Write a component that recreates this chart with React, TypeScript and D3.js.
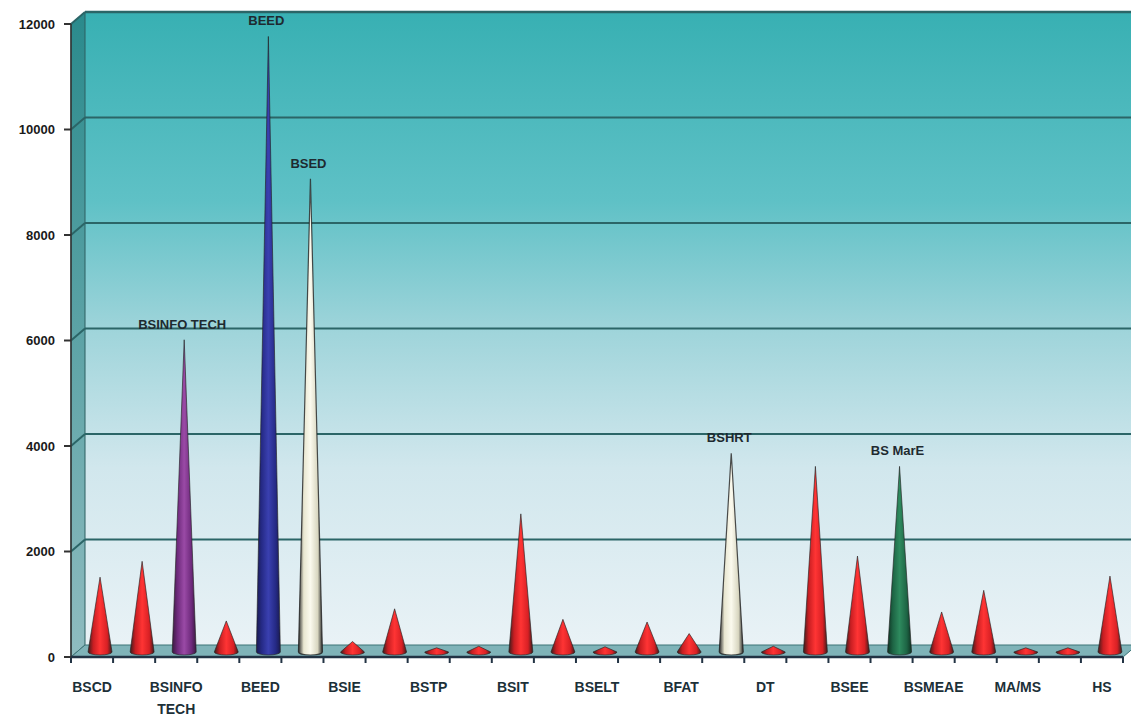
import React from 'react';
import * as d3 from 'd3';

// 25 categories, only every other one is labelled on the axis
const tickLabels = ['BSCD', 'BSINFO\nTECH', 'BEED', 'BSIE', 'BSTP', 'BSIT', 'BSELT', 'BFAT', 'DT', 'BSEE', 'BSMEAE', 'MA/MS', 'HS'];
const values = [1400, 1700, 5900, 570, 11650, 8950, 180, 800, 60, 90, 2600, 600, 80, 550, 330, 3750, 90, 3500, 1800, 3500, 740, 1150, 60, 60, 1420];
const peakLabels = [
  { index: 2, text: 'BSINFO TECH' },
  { index: 4, text: 'BEED' },
  { index: 5, text: 'BSED' },
  { index: 15, text: 'BSHRT' },
  { index: 19, text: 'BS MarE' },
];
const yTicks = [0, 2000, 4000, 6000, 8000, 10000, 12000];

const W = 1131;
const H = 721;
const DX = 14; // depth offset of the back wall
const DY = -12;

const coneStyle: Record<number, string> = { 2: 'purple', 4: 'blue', 5: 'cream', 15: 'cream', 19: 'green' };
const palettes: Record<string, string[]> = {
  red: ['#3a1c1c', '#c81e22', '#ff3434', '#d82024', '#3a1c1c'],
  purple: ['#3a1a40', '#6e2a7c', '#9a4aa6', '#6e2a7c', '#3a1a40'],
  blue: ['#1a1a50', '#252a86', '#3a40b0', '#252a86', '#1a1a50'],
  cream: ['#2a2a2a', '#e8e6d0', '#fbfaee', '#d8d6c0', '#2a2a2a'],
  green: ['#0f3222', '#1d6444', '#2e8a5e', '#1d6444', '#0f3222'],
};

export default function App() {
  const x = d3.scaleBand<number>().domain(d3.range(values.length)).range([71, 1123]).paddingInner(0).paddingOuter(0);
  const y = d3.scaleLinear().domain([0, 12000]).range([657, 24]);
  const bw = x.bandwidth();
  const floorY = y(0);
  const backTop = y(12000) + DY;
  const backBottom = floorY + DY;
  const halfBase = 12;
  const coneX = (i: number) => (x(i) as number) + bw / 2 + DX / 2 + 1;

  return (
    <svg width={W} height={H} style={{ position: 'absolute', left: 0, top: 0, background: '#fff' }}
      fontFamily="Arial, 'Liberation Sans', sans-serif">
      <defs>
        <linearGradient id="wall" x1="0" y1="0" x2="0" y2="1">
          <stop offset="0" stopColor="#38b0b3" />
          <stop offset="0.3" stopColor="#5fc1c6" />
          <stop offset="0.5" stopColor="#9ed4da" />
          <stop offset="0.72" stopColor="#d1e7ed" />
          <stop offset="1" stopColor="#e9f2f6" />
        </linearGradient>
        <linearGradient id="side" x1="0" y1="0" x2="0" y2="1">
          <stop offset="0" stopColor="#2a8a8c" />
          <stop offset="1" stopColor="#8fbcc0" />
        </linearGradient>
        {Object.entries(palettes).map(([k, c]) => (
          <linearGradient key={k} id={`cone-${k}`} x1="0" y1="0" x2="1" y2="0">
            <stop offset="0" stopColor={c[0]} />
            <stop offset="0.22" stopColor={c[1]} />
            <stop offset="0.5" stopColor={c[2]} />
            <stop offset="0.8" stopColor={c[3]} />
            <stop offset="1" stopColor={c[4]} />
          </linearGradient>
        ))}
      </defs>

      {/* back wall */}
      <rect x={71 + DX} y={backTop} width={W - 71 - DX} height={backBottom - backTop} fill="url(#wall)" />
      {/* left side wall */}
      <polygon points={`71,${y(12000)} ${71 + DX},${backTop} ${71 + DX},${backBottom} 71,${floorY}`} fill="url(#side)" stroke="#2c5f60" strokeWidth={1} />
      {/* gridlines */}
      {yTicks.filter(t => t > 0).map(t => (
        <g key={t}>
          <line x1={71 + DX} x2={W} y1={y(t) + DY} y2={y(t) + DY} stroke="#2b6567" strokeWidth={2.2} />
          <line x1={71} x2={71 + DX} y1={y(t)} y2={y(t) + DY} stroke="#2b6567" strokeWidth={2} />
        </g>
      ))}
      <line x1={71 + DX} x2={W} y1={backTop} y2={backTop} stroke="#2b6567" strokeWidth={2.5} />
      {/* floor */}
      <polygon points={`71,${floorY} 1123,${floorY} ${1123 + DX},${backBottom} ${71 + DX},${backBottom}`} fill="#7fb3b8" stroke="#3d7477" strokeWidth={1} />

      {/* cones */}
      {values.map((v, i) => {
        const cx = coneX(i);
        const base = floorY + DY / 2 + 1;
        const apex = y(v) + DY / 2;
        const style = coneStyle[i] || 'red';
        return (
          <path key={i} d={`M${cx - halfBase},${base} L${cx},${apex} L${cx + halfBase},${base} A${halfBase},3 0 0 1 ${cx - halfBase},${base} Z`}
            fill={`url(#cone-${style})`} stroke="#222" strokeWidth={style === 'cream' ? 1.2 : 0.8} strokeOpacity={0.8} />
        );
      })}

      {/* axes */}
      <line x1={71} x2={71} y1={y(12000)} y2={floorY} stroke="#333" strokeWidth={1.5} />
      <line x1={71} x2={1123} y1={floorY} y2={floorY} stroke="#234" strokeWidth={2.5} />
      {d3.range(values.length + 1).map(i => {
        const tx = 71 + i * bw;
        return <line key={i} x1={tx} x2={tx} y1={floorY} y2={floorY + 6} stroke="#234" strokeWidth={2} />;
      })}
      {yTicks.map(t => (
        <g key={t}>
          <line x1={64} x2={71} y1={y(t)} y2={y(t)} stroke="#333" strokeWidth={2} />
          <text x={55} y={y(t)} dy="0.35em" textAnchor="end" fontSize={13} fontWeight="bold" fill="#1a1a1a">{t}</text>
        </g>
      ))}
      {tickLabels.map((lab, j) => {
        const i = j * 2;
        const cx = (x(i) as number) + bw / 2;
        return (
          <text key={j} x={cx} y={692} textAnchor="middle" fontSize={14} fontWeight="bold" fill="#1c3038">
            {lab.split('\n').map((l, k) => <tspan key={k} x={cx} dy={k === 0 ? 0 : 22}>{l}</tspan>)}
          </text>
        );
      })}
      {peakLabels.map(p => (
        <text key={p.index} x={coneX(p.index) - 2} y={y(values[p.index]) + DY / 2 - 11} textAnchor="middle" fontSize={13} fontWeight="bold" fill="#1e2a30">{p.text}</text>
      ))}
    </svg>
  );
}
